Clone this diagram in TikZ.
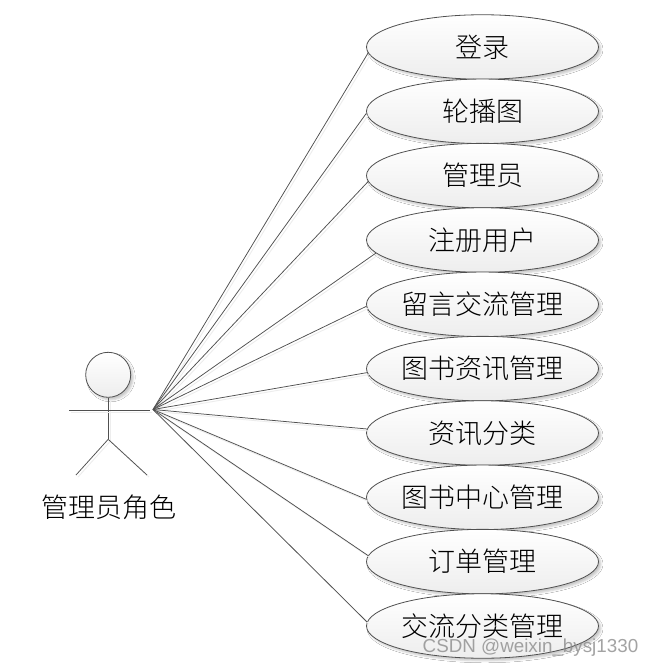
\documentclass[tikz,border=0pt]{standalone}
\usepackage{fontspec}
\setmainfont{Noto Sans CJK SC Light}
\newfontfamily\wm{Liberation Sans}
\usetikzlibrary{shapes.geometric,shadows.blur,calc}
\definecolor{ln}{HTML}{505050}
\tikzset{
 x=1pt,y=-1pt,
 softshadow/.style={blur shadow={shadow xshift=2.5pt,shadow yshift=-2.5pt,shadow blur steps=4,shadow blur radius=2pt,shadow opacity=22}},
 uc/.style={ellipse,draw=ln,line width=0.8pt,minimum width=232pt,minimum height=64.5pt,inner sep=0pt,
   top color=white,bottom color=black!7,softshadow,
   font=\fontsize{27}{30}\selectfont,text=black},
 link/.style={draw=ln,line width=0.75pt,preaction={draw=black!7,line width=0.9pt,transform canvas={shift={(2pt,-2pt)}}}},
}
\begin{document}
\begin{tikzpicture}
\useasboundingbox (0,0) rectangle (654,668);
\fill[white] (0,0) rectangle (654,668);
\coordinate (hub) at (153,409.5);
\coordinate (armL) at (69,410.3);
\coordinate (armR) at (150,410.3);
\coordinate (hip) at (108.2,439.3);
\coordinate (footL) at (76,475);
\coordinate (footR) at (147,475);
\node[circle,draw=ln,line width=0.8pt,minimum size=45pt,inner sep=0pt,top color=white,bottom color=black!7,softshadow] (head) at (108.2,374.8) {};
\node[font=\fontsize{27}{30}\selectfont] (actor) at (109,507) {管理员角色};
\draw[link] (head.south) -- (hip);
\draw[link] (armL) -- (armR);
\draw[link] (hip) -- (footL);
\draw[link] (hip) -- (footR);
\node[uc] (u1) at (482.5,47) {登录};
\node[uc] (u2) at (482.5,111.3) {轮播图};
\node[uc] (u3) at (482.5,175.6) {管理员};
\node[uc] (u4) at (482.5,240) {注册用户};
\node[uc] (u5) at (482.5,304.3) {留言交流管理};
\node[uc] (u6) at (482.5,368.6) {图书资讯管理};
\node[uc] (u7) at (482.5,433) {资讯分类};
\node[uc] (u8) at (482.5,497.3) {图书中心管理};
\node[uc] (u9) at (482.5,561.6) {订单管理};
\node[uc] (u10) at (482.5,626) {交流分类管理};
\draw[link] (hub) -- (u1.183);
\draw[link] (hub) -- (u2.181);
\draw[link] (hub) -- (u3.183);
\draw[link] (hub) -- (u4.187);
\draw[link] (hub) -- (u5.181);
\draw[link] (hub) -- (u6.182);
\draw[link] (hub) -- (u7.178);
\draw[link] (hub) -- (u8.181);
\draw[link] (hub) -- (u9.177.5);
\draw[link] (hub) -- (u10.178.4);
\node[font=\wm\fontsize{18.8}{20}\selectfont,text=black!45,text opacity=.8] (wm) at (530.5,648) {CSDN @weixin\_bysj1330};
\end{tikzpicture}
\end{document}
